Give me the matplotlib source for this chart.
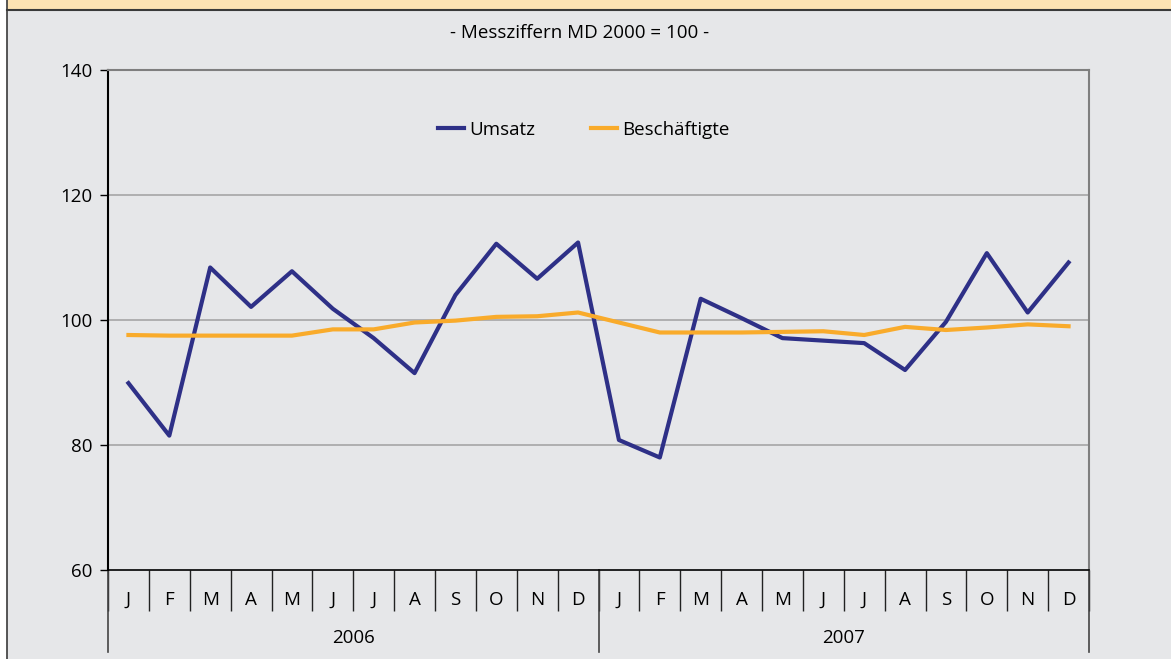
import matplotlib
matplotlib.use("Agg")
import matplotlib.pyplot as plt
from matplotlib.patches import Rectangle
from matplotlib.lines import Line2D
import matplotlib.transforms as mtransforms

plt.rcParams['font.family'] = ['Open Sans', 'DejaVu Sans']

months = ["J", "F", "M", "A", "M", "J", "J", "A", "S", "O", "N", "D"] * 2
years = ["2006", "2007"]
umsatz = [89.9, 81.5, 108.4, 102.1, 107.8, 101.8, 97.1, 91.5, 104.0, 112.2, 106.6, 112.4,
          80.8, 78.0, 103.4, 100.3, 97.1, 96.7, 96.3, 92.0, 99.7, 110.7, 101.2, 109.2]
beschaeftigte = [97.6, 97.5, 97.5, 97.5, 97.5, 98.5, 98.5, 99.6, 99.9, 100.5, 100.6, 101.2,
                 99.6, 98.0, 98.0, 98.0, 98.1, 98.2, 97.6, 98.9, 98.4, 98.8, 99.3, 99.0]
yticks = [60, 80, 100, 120, 140]
subtitle = "- Messziffern MD 2000 = 100 -"

W, H = 1171, 659
fig = plt.figure(figsize=(W / 100, H / 100), dpi=100)
fig.patch.set_facecolor("white")

def fx(px):
    return px / W

def fy(py):
    return 1 - py / H

bg = "#e6e7e9"
FS = 13.5
# background panels
fig.patches.append(Rectangle((fx(7), 0), 1 - fx(7), fy(10), transform=fig.transFigure,
                             facecolor=bg, edgecolor="none", zorder=-5))
fig.patches.append(Rectangle((fx(7), fy(10)), 1 - fx(7), 1 - fy(10), transform=fig.transFigure,
                             facecolor="#fde3b3", edgecolor="none", zorder=-5))
fig.lines.append(Line2D([fx(7), 1], [fy(10), fy(10)], transform=fig.transFigure,
                        color="#3a3a3a", linewidth=1.5, zorder=-4))
fig.lines.append(Line2D([fx(7), fx(7)], [0, 1], transform=fig.transFigure,
                        color="#3a3a3a", linewidth=1.2, zorder=-4))

left, right, top, bottom = 108, 1089, 70, 570
ax = fig.add_axes([fx(left), fy(bottom), fx(right) - fx(left), fy(top) - fy(bottom)])
ax.set_zorder(2)
ax.set_facecolor(bg)

x = list(range(len(months)))
ax.plot(x, umsatz, color="#2e3087", linewidth=3.0, label="Umsatz", zorder=3)
ax.plot(x, beschaeftigte, color="#f9ab2b", linewidth=3.0, label="Beschäftigte", zorder=3)

ax.set_xlim(-0.5, len(months) - 0.5)
ax.set_ylim(60, 140)
ax.set_yticks(yticks)
ax.set_yticklabels([str(v) for v in yticks], fontsize=FS)
ax.tick_params(axis="y", direction="out", length=6, width=1, color="black", pad=5)
for v in yticks[1:-1]:
    ax.axhline(v, color="#a6a6a6", linewidth=1.2, zorder=1)

# x: labels at centers, separators as minor ticks
ax.set_xticks(x)
ax.set_xticklabels(months, fontsize=FS)
ax.set_xticks([i - 0.5 for i in range(len(months) + 1)], minor=True)
ax.tick_params(axis="x", which="major", length=0, pad=15)
ax.tick_params(axis="x", which="minor", direction="out", length=29.5, width=1, color="#222222")

for s in ["top", "right"]:
    ax.spines[s].set_color("#7f7f7f")
    ax.spines[s].set_linewidth(1.5)
ax.spines["left"].set_color("black")
ax.spines["left"].set_linewidth(1.5)
ax.spines["bottom"].set_color("black")
ax.spines["bottom"].set_linewidth(1.2)

# year separators and labels
trans = mtransforms.blended_transform_factory(ax.transData, ax.transAxes)
ext = (652 - bottom) / (bottom - top)
for xb in [-0.5, 11.5, 23.5]:
    ax.plot([xb, xb], [0, -ext], transform=trans, color="#444444", linewidth=1.2, clip_on=False)
ylab = -(638 - bottom) / (bottom - top)
for i, yr in enumerate(years):
    ax.text(5.5 + 12 * i, ylab, yr, transform=trans, ha="center", va="center", fontsize=FS)

fig.text(fx(580), fy(33), subtitle, ha="center", va="center", fontsize=FS)

leg = ax.legend(loc="center", bbox_to_anchor=((584 - left) / (right - left), (bottom - 130) / (bottom - top)),
                ncol=2, frameon=False, fontsize=FS, handlelength=1.35, handletextpad=0.3,
                columnspacing=3.0)

fig.savefig("out.png", dpi=100, facecolor=fig.get_facecolor())
